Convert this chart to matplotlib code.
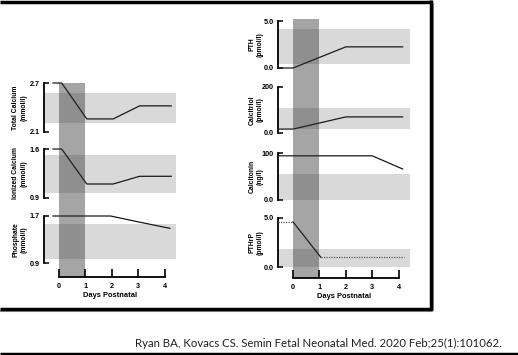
import matplotlib
matplotlib.use("Agg")
import matplotlib.pyplot as plt
from matplotlib.lines import Line2D

W, H = 518, 355

# ---- data (days postnatal vs value) ----
DAY_TICKS = [0, 1, 2, 3, 4]
XLIM = (-0.57, 4.43)

TCA_X = [-0.23, 0.1, 1.05, 2.05, 3.05, 4.25]
TCA_Y = [2.7, 2.7, 2.26, 2.26, 2.42, 2.42]
TCA_REF = (2.21, 2.58)

ICA_X = [-0.23, 0.1, 1.05, 2.05, 3.05, 4.25]
ICA_Y = [1.6, 1.6, 1.1, 1.1, 1.21, 1.21]
ICA_REF = (0.97, 1.51)

PHOS_X = [-0.23, 1.95, 3.0, 4.2]
PHOS_Y = [1.7, 1.7, 1.6, 1.49]
PHOS_REF = (0.97, 1.56)

PTH_X = [-0.57, 0.0, 2.0, 4.15]
PTH_Y = [0.0, 0.0, 2.25, 2.25]
PTH_REF = (0.43, 4.15)

CTRIOL_X = [-0.57, 0.0, 2.0, 4.15]
CTRIOL_Y = [17, 17, 70, 70]
CTRIOL_REF = (17, 109)

CTONIN_X = [-0.57, 3.0, 4.15]
CTONIN_Y = [94, 94, 66]
CTONIN_REF = (0, 55)

PTHRP_X = [-0.57, 0.0, 1.05, 4.2]
PTHRP_Y = [4.6, 4.6, 1.0, 1.0]
PTHRP_STYLE = ["dot", "solid", "dot"]
PTHRP_REF = (0, 1.84)

LIGHT = "#d9d9d9"
FONT = ["Liberation Sans", "DejaVu Sans"]

fig = plt.figure(figsize=(W / 100, H / 100), dpi=100)
fig.patch.set_facecolor("white")


def rect(x0, y0, x1, y1):
    return [x0 / W, 1 - y1 / H, (x1 - x0) / W, (y1 - y0) / H]


def panel(px, py, xs, ys, ref, ylim, ticklabels, label, label_x, styles=None):
    ax = fig.add_axes(rect(px[0], py[0], px[1], py[1]))
    ax.set_xlim(*XLIM)
    ax.set_ylim(*ylim)
    ax.axhspan(ref[0], ref[1], color=LIGHT, lw=0, zorder=1)
    if styles is None:
        ax.plot(xs, ys, color="#1a1a1a", lw=0.9, zorder=3, clip_on=False)
    else:
        for i, st in enumerate(styles):
            if st == "dot":
                ax.plot(xs[i:i + 2], ys[i:i + 2], color="#555555", lw=0.9,
                        ls=(0, (1, 1)), zorder=3, clip_on=False)
            else:
                ax.plot(xs[i:i + 2], ys[i:i + 2], color="#1a1a1a", lw=0.9,
                        zorder=3, clip_on=False)
    for s in ("top", "right", "bottom"):
        ax.spines[s].set_visible(False)
    ax.spines["left"].set_linewidth(1.3)
    ax.set_xticks([])
    ax.set_yticks(list(ylim))
    ax.set_yticklabels(ticklabels, fontsize=5.2, fontweight="bold", family=FONT)
    ax.tick_params(axis="y", direction="in", length=3.5, width=1.1, pad=3)
    ax.patch.set_alpha(0)
    cy = (py[0] + py[1]) / 2
    fig.text(label_x / W, 1 - cy / H, label, rotation=90, ha="center",
             va="center", fontsize=4.9, fontweight="bold", family=FONT,
             multialignment="center", linespacing=1.3)
    return ax


def day_axis(px, py):
    ax = fig.add_axes(rect(px[0], py[0], px[1], py[1]))
    ax.set_xlim(*XLIM)
    ax.set_ylim(0, 1)
    ax.axvspan(0, 1, color="#2a2a2a", alpha=0.42, lw=0)
    for s in ("top", "right", "left"):
        ax.spines[s].set_visible(False)
    ax.spines["bottom"].set_bounds(0, 4)
    ax.spines["bottom"].set_linewidth(1.3)
    ax.set_yticks([])
    ax.set_xticks(DAY_TICKS)
    ax.set_xticklabels([str(d) for d in DAY_TICKS], fontsize=5.2,
                       fontweight="bold", family=FONT)
    ax.tick_params(axis="x", direction="in", length=6, width=1.2, pad=4)
    ax.set_xlabel("Days Postnatal", fontsize=5.4, fontweight="bold",
                  family=FONT, labelpad=1.5)
    ax.patch.set_alpha(0)
    ax.set_zorder(5)
    return ax


# left column
LX = (44, 176)
panel(LX, (83, 132), TCA_X, TCA_Y, TCA_REF, (2.1, 2.7), ["2.1", "2.7"],
      "Total Calcium\n(mmol/l)", 20)
panel(LX, (149, 198), ICA_X, ICA_Y, ICA_REF, (0.9, 1.6), ["0.9", "1.6"],
      "Ionized Calcium\n(mmol/l)", 20)
panel(LX, (216, 263), PHOS_X, PHOS_Y, PHOS_REF, (0.9, 1.7), ["0.9", "1.7"],
      "Phosphate\n(mmol/l)", 20)
day_axis(LX, (83, 277))

# right column
RX = (278, 410)
panel(RX, (21, 68), PTH_X, PTH_Y, PTH_REF, (0, 5), ["0.0", "5.0"],
      "PTH\n(pmol/l)", 256)
panel(RX, (87, 133), CTRIOL_X, CTRIOL_Y, CTRIOL_REF, (0, 200), ["0.0", "200"],
      "Calcitriol\n(pmol/l)", 256)
panel(RX, (153, 200), CTONIN_X, CTONIN_Y, CTONIN_REF, (0, 100), ["0.0", "100"],
      "Calcitonin\n(ng/l)", 256)
panel(RX, (218, 267), PTHRP_X, PTHRP_Y, PTHRP_REF, (0, 5), ["0.0", "5.0"],
      "PTHrP\n(pmol/l)", 256, styles=PTHRP_STYLE)
day_axis(RX, (19, 278))

# slide frame
def hline(y, x0, x1, lw, color="black"):
    fig.add_artist(Line2D([x0 / W, x1 / W], [1 - y / H, 1 - y / H],
                          color=color, lw=lw, solid_capstyle="butt"))


def vline(x, y0, y1, lw, color="black"):
    fig.add_artist(Line2D([x / W, x / W], [1 - y0 / H, 1 - y1 / H],
                          color=color, lw=lw, solid_capstyle="butt"))


vline(433, 3, 311, 1.5, "#9a9a9a")
hline(311, 0, 433, 1.5, "#9a9a9a")
hline(1.5, 0, 432, 2.5)
vline(431, 0, 310, 2.5)
hline(309, 0, 432, 2.5)
hline(353.5, 0, W, 2.5)

fig.text(502 / W, 1 - 343 / H,
         "Ryan BA, Kovacs CS. Semin Fetal Neonatal Med. 2020 Feb;25(1):101062.",
         ha="right", va="center", fontsize=8.2, color="#222222",
         family=["Lato", "DejaVu Sans"])

fig.savefig("out.png", dpi=100, facecolor="white")
